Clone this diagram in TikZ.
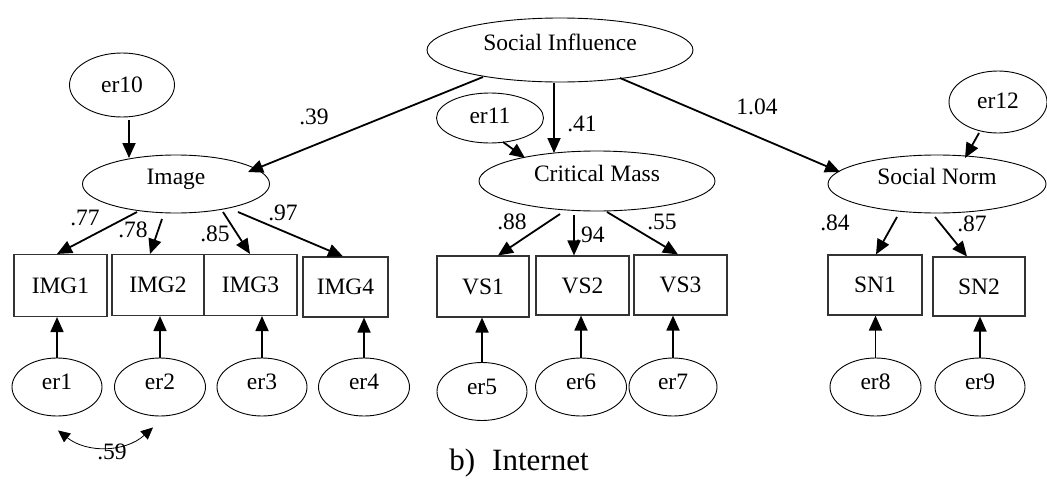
\documentclass[tikz,border=0pt]{standalone}
\usepackage{fontspec}
\setmainfont{Liberation Serif}
\usetikzlibrary{arrows.meta,shapes.geometric}

\begin{document}
\begin{tikzpicture}[x=1pt,y=-1pt,
  txt/.style={font=\fontsize{23.5}{28}\selectfont},
  latent/.style={ellipse,draw,line width=0.9pt,inner sep=0pt,txt,
    minimum height=58pt,text height=16pt,text depth=16pt},
  err/.style={ellipse,draw,line width=0.9pt,inner sep=0pt,txt,
    minimum width=90pt,minimum height=58pt},
  errlow/.style={err,text height=16pt,text depth=11pt},
  obs/.style={rectangle,draw=black!80,line width=1.1pt,inner sep=0pt,txt,
    minimum width=93pt,minimum height=61pt},
  arr/.style={line width=1.8pt,-{Triangle[length=15pt,width=13pt]}},
  cov/.style={line width=0.8pt,
    {Triangle[length=12pt,width=11pt]}-{Triangle[length=12pt,width=11pt]}},
  lbl/.style={txt,inner sep=0pt}
]
\useasboundingbox (0,0) rectangle (1047,482);

% latent variables
\node[latent,minimum width=266pt,minimum height=64pt] (SI) at (560,50) {Social Influence};
\node[latent,minimum width=187pt] (Img) at (176,184) {Image};
\node[latent,minimum width=236pt,minimum height=60pt] (CM) at (597,181) {Critical Mass};
\node[latent,minimum width=218pt] (SN) at (937,184) {Social Norm};

% disturbances of the latent variables
\node[err,minimum width=105pt,minimum height=64pt] (er10) at (122,85) {er10};
\node[err,minimum width=107pt,minimum height=50pt,text height=16pt,text depth=5pt] (er11) at (490,118) {er11};
\node[err,minimum width=98pt,minimum height=62pt,text height=16pt,text depth=3pt] (er12) at (998,102) {er12};

% indicators
\node[obs,minimum height=62pt] (IMG1) at (60.5,285.5) {IMG1};
\node[obs,minimum width=92pt] (IMG2) at (158,285) {IMG2};
\node[obs] (IMG3) at (250.5,285) {IMG3};
\node[obs,minimum width=85pt,minimum height=60pt] (IMG4) at (345.5,287) {IMG4};
\node[obs,minimum width=92pt] (VS1) at (483,286.5) {VS1};
\node[obs,minimum height=59pt] (VS2) at (582.5,285.5) {VS2};
\node[obs,minimum height=60pt] (VS3) at (680.5,285) {VS3};
\node[obs,minimum width=94pt,minimum height=60pt] (SN1) at (875,285) {SN1};
\node[obs,minimum width=92pt,minimum height=59pt] (SN2) at (979,286.5) {SN2};

% measurement errors
\node[errlow] (er1) at (57,387) {er1};
\node[errlow,minimum width=91pt] (er2) at (160,387) {er2};
\node[errlow] (er3) at (262,387) {er3};
\node[errlow,minimum width=91pt] (er4) at (364,387) {er4};
\node[errlow] (er5) at (482,391.5) {er5};
\node[errlow,minimum width=91pt] (er6) at (581,387) {er6};
\node[errlow,minimum width=88pt] (er7) at (673,387) {er7};
\node[errlow,minimum width=91pt] (er8) at (875.5,387) {er8};
\node[errlow] (er9) at (980,387) {er9};

% structural paths
\draw[arr] ([shift={(-77,27)}]SI.center) -- ([shift={(72,-12)}]Img.center);
\draw[arr] ([shift={(-6,33)}]SI.center) -- ([shift={(-43,-28)}]CM.center);
\draw[arr] ([shift={(60,28)}]SI.center) -- ([shift={(-97,-12)}]SN.center);
\draw[arr] ([shift={(7,35)}]er10.center) -- ([shift={(-47,-26)}]Img.center);
\draw[arr] ([shift={(13,24)}]er11.center) -- ([shift={(-72,-23)}]CM.center);
\draw[arr] ([shift={(-19,31)}]er12.center) -- ([shift={(28,-26)}]SN.center);

% loadings
\draw[arr] ([shift={(-39,28)}]Img.center) -- ([xshift=-3.5pt]IMG1.north);
\draw[arr] ([shift={(-14,35)}]Img.center) -- ([xshift=-8pt]IMG2.north);
\draw[arr] ([shift={(47,28)}]Img.center) -- ([xshift=-0.5pt]IMG3.north);
\draw[arr] ([shift={(62,28)}]Img.center) -- ([xshift=-2.5pt]IMG4.north);
\draw[arr] ([shift={(-37,33)}]CM.center) -- ([xshift=15pt]VS1.north);
\draw[arr] ([shift={(-23,34)}]CM.center) -- ([xshift=-8.5pt]VS2.north);
\draw[arr] ([shift={(10,31)}]CM.center) -- ([xshift=-2.5pt]VS3.north);
\draw[arr] ([shift={(-40,33)}]SN.center) -- ([xshift=1pt]SN1.north);
\draw[arr] ([shift={(-2,33)}]SN.center) -- ([xshift=-12pt]SN2.north);

% error terms into indicators
\foreach \e/\b in {er1/IMG1,er2/IMG2,er3/IMG3,er4/IMG4,er5/VS1,er6/VS2,er7/VS3,er8/SN1,er9/SN2}
  \draw[arr] (\e.north) -- (\e.north |- \b.south);

% error covariance
\draw[cov] ([shift={(1,14)}]er1.south) to[bend right=40] ([shift={(-7,11)}]er2.south);

% coefficients
\node[lbl] (c39) at (314,117) {.39};
\node[lbl] (c41) at (582,123.5) {.41};
\node[lbl] (c104) at (757,107) {1.04};
\node[lbl] (c77) at (85,218) {.77};
\node[lbl] (c78) at (133,230) {.78};
\node[lbl] (c85) at (215,234) {.85};
\node[lbl] (c97) at (283,213) {.97};
\node[lbl] (c88) at (512,222) {.88};
\node[lbl] (c94) at (590,235) {.94};
\node[lbl] (c55) at (662,222) {.55};
\node[lbl] (c84) at (835,223) {.84};
\node[lbl] (c87) at (972,224) {.87};
\node[lbl] (c59) at (112,452) {.59};

% caption
\node[font=\fontsize{31}{36}\selectfont,inner sep=0pt] (cap) at (519,463) {b)\hspace{0.55em}Internet};
\end{tikzpicture}
\end{document}
